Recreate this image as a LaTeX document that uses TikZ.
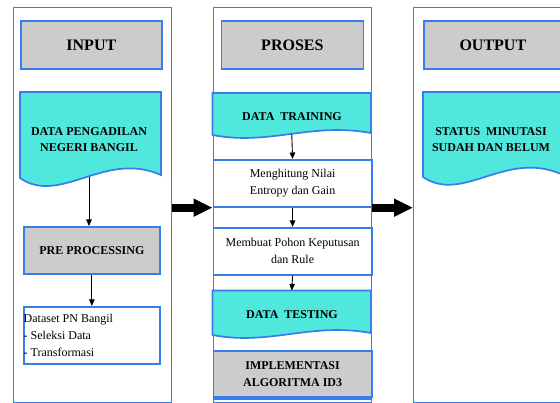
\documentclass[tikz,border=0pt]{standalone}
\usepackage{fontspec}
\setmainfont{Liberation Serif}
\usetikzlibrary{arrows.meta}
\definecolor{bblue}{RGB}{55,125,235}
\definecolor{gbox}{RGB}{204,204,204}
\definecolor{cyanf}{RGB}{80,232,220}
\begin{document}
\begin{tikzpicture}[x=1pt,y=-1pt,
  frame/.style={draw=bblue,line width=1.4pt,fill=white,anchor=north west,inner sep=0pt},
  titlebox/.style={draw=bblue,line width=1.7pt,fill=gbox,anchor=north west,inner sep=0pt,
     font=\fontsize{16}{18}\selectfont\bfseries},
  graybox/.style={draw=bblue,line width=1.7pt,fill=gbox,anchor=north west,inner sep=0pt,
     align=center,font=\fontsize{12}{16.5}\selectfont\bfseries},
  whitebox/.style={draw=bblue,line width=1.7pt,fill=white,anchor=north west,inner sep=0pt,
     align=center,font=\fontsize{12}{17}\selectfont},
  docshape/.style={draw=bblue,line width=1.7pt,fill=cyanf},
  doctext/.style={align=center,inner sep=0pt,font=\fontsize{12}{16}\selectfont\bfseries},
  smallarrow/.style={draw=black,line width=0.9pt,-{Triangle[length=6.5pt,width=5.5pt]}},
  bigarrow/.style={draw=black,line width=8pt,-{Triangle[length=19pt,width=17pt]}}
]
\clip (0,0) rectangle (560,403);
\fill[white] (0,0) rectangle (560,403);

% column frames
\node[frame,minimum width=158pt,minimum height=395pt] (colL) at (13,7) {};
\node[frame,minimum width=158.5pt,minimum height=395pt] (colM) at (212.5,7) {};
\node[frame,minimum width=158pt,minimum height=395pt] (colR) at (413,7) {};

% INPUT column
\node[titlebox,minimum width=141pt,minimum height=48pt] (inp) at (20,20) {INPUT};
\draw[docshape] (20,92) -- (161,92) -- (161,175)
   .. controls (105,150) and (60,206) .. (20,178) -- cycle;
\node[doctext] (dpn) at (89,140) {DATA\ PENGADILAN\\NEGERI BANGIL};
\coordinate (dpnB) at (89,177);
\node[graybox,minimum width=136pt,minimum height=47pt] (pre) at (23,226) {PRE PROCESSING};
\node[whitebox,minimum width=136pt,minimum height=57pt] (ds) at (23,306) {};
\node[anchor=west,align=left,inner sep=0pt,font=\fontsize{12}{17}\selectfont] (dstext) at (23.5,335)
   {Dataset PN Bangil\\- Seleksi Data\\- Transformasi};

% PROSES column
\node[titlebox,minimum width=142pt,minimum height=48pt] (pro) at (220.5,20) {PROSES};
\draw[docshape] (212.5,93) -- (371,93) -- (371,133)
   .. controls (310,122) and (270,146) .. (212.5,135) -- cycle;
\node[doctext] (dtr) at (292,117) {DATA\ \ TRAINING};
\coordinate (dtrB) at (291.75,134);
\node[whitebox,minimum width=158.5pt,minimum height=47pt] (m1) at (212.5,159)
   {Menghitung Nilai\\Entropy dan Gain};
\node[whitebox,minimum width=158.5pt,minimum height=47pt] (m2) at (212.5,227)
   {Membuat Pohon Keputusan\\dan Rule};
\draw[docshape] (212.5,290.5) -- (371,290.5) -- (371,333)
   .. controls (310,322) and (270,346) .. (212.5,335) -- cycle;
\coordinate (dtsT) at (291.75,290.5);
\node[doctext] (dts) at (292,315) {DATA\ \ TESTING};
\node[graybox,minimum width=158.5pt,minimum height=46pt,font=\fontsize{12}{17}\selectfont\bfseries] (impl) at (212.5,350)
   {IMPLEMENTASI\\ALGORITMA ID3};
\draw[draw=bblue,line width=1.7pt] (colM.west |- 0,399) -- (colM.east |- 0,399);

% OUTPUT column
\node[titlebox,minimum width=138pt,minimum height=48pt] (out) at (423,20) {OUTPUT};
\draw[docshape] (423,92) -- (561,92) -- (561,174)
   .. controls (505,150) and (463,204) .. (423,177) -- cycle;
\node[doctext] (st) at (491,140) {STATUS\ \ MINUTASI\\SUDAH DAN BELUM};

% small arrows
\draw[smallarrow] (dpnB) -- (pre.north -| dpnB);
\draw[smallarrow] (pre.south) -- (ds.north);
\draw[smallarrow] (dtrB) -- (m1.north);
\draw[smallarrow] (m1.south) -- (m2.north);
\draw[smallarrow] (m2.south) -- (dtsT);

% big arrows between columns
\draw[bigarrow] (colL.east |- m1.south) -- (colM.west |- m1.south);
\draw[bigarrow] (colM.east |- m1.south) -- (colR.west |- m1.south);
\end{tikzpicture}
\end{document}
